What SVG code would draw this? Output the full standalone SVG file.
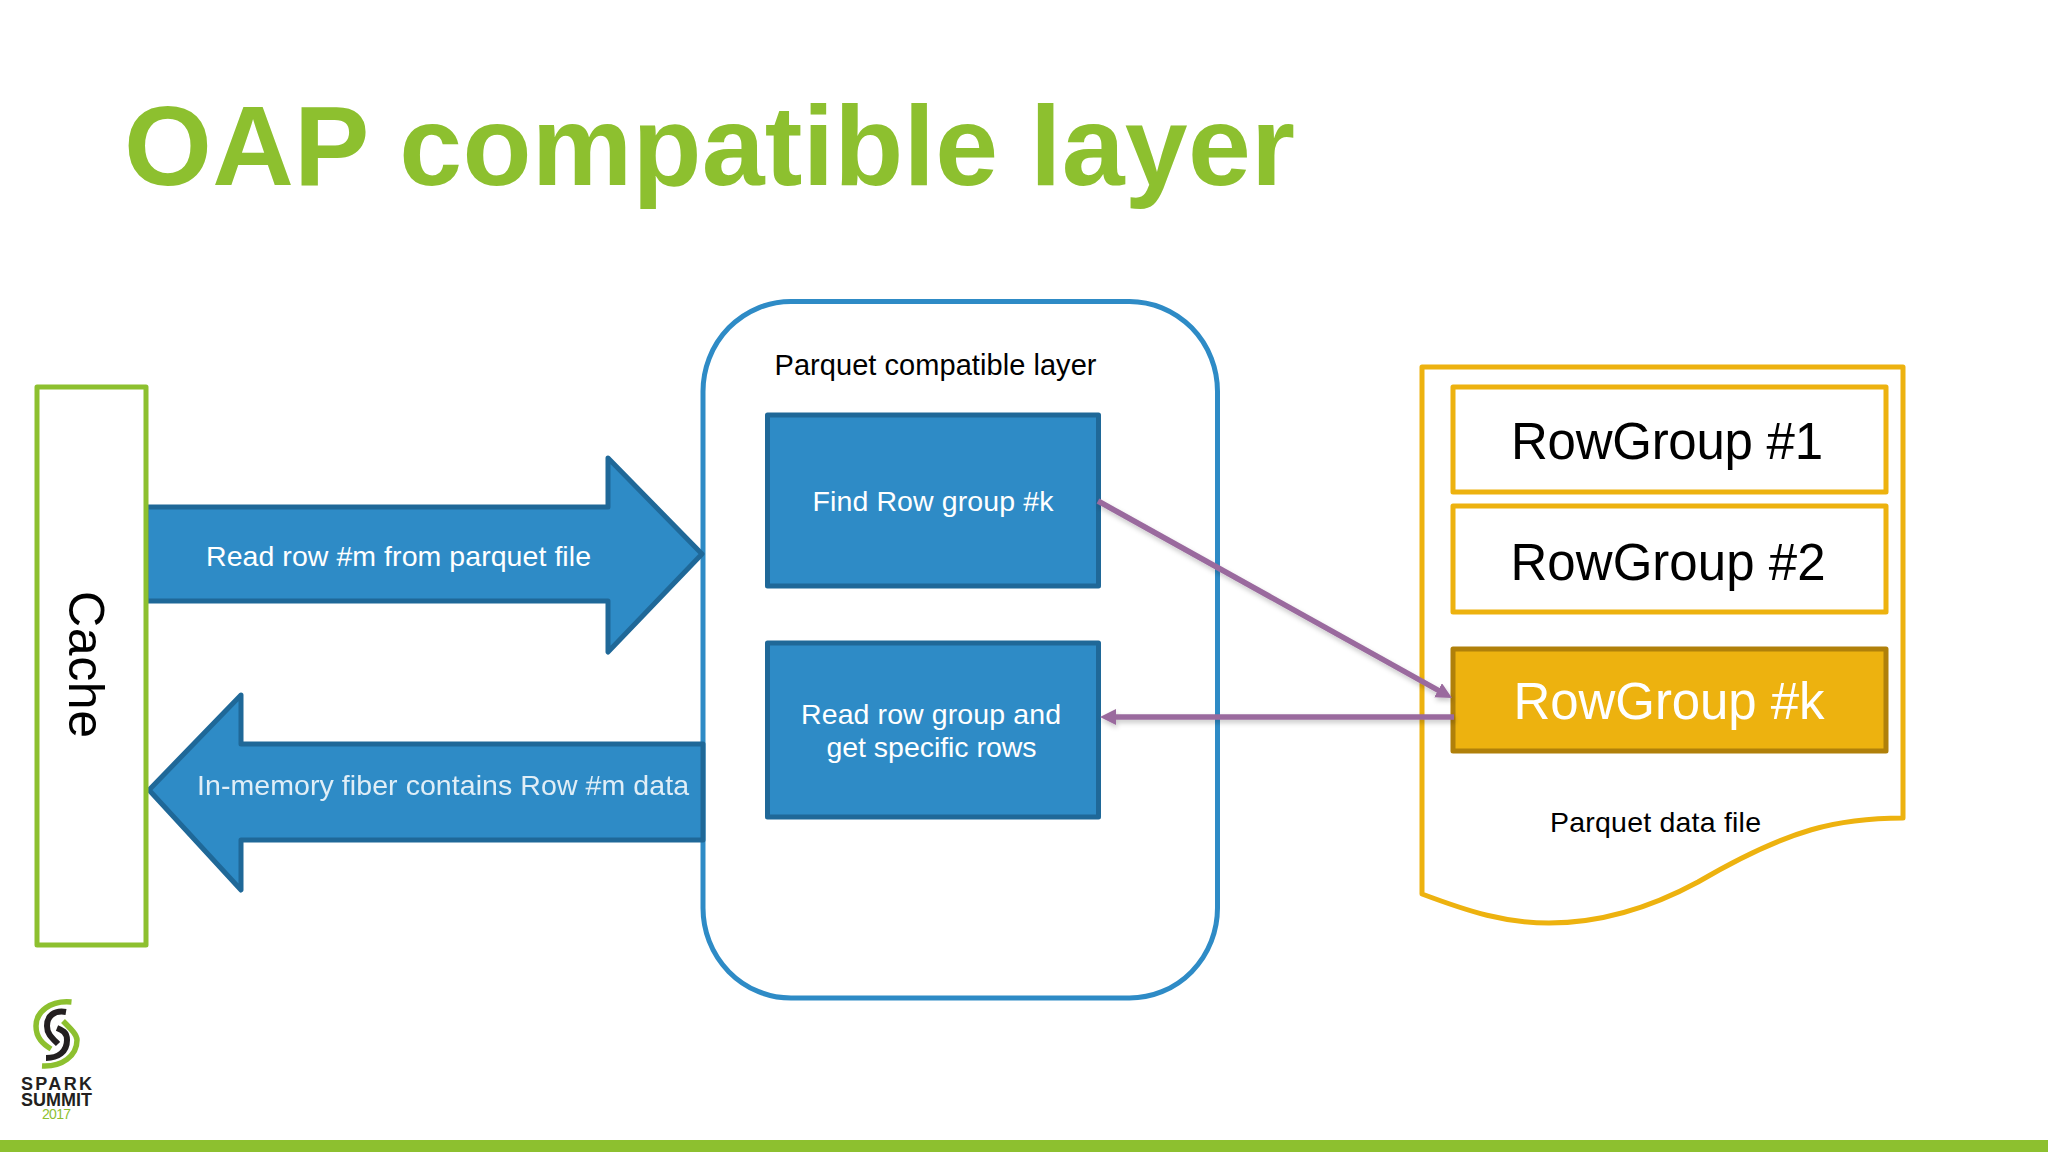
<svg xmlns="http://www.w3.org/2000/svg" width="2048" height="1152" viewBox="0 0 2048 1152">
<style>
text{font-family:"Liberation Sans",Arial,sans-serif}
.blue{fill:#2E8BC6;stroke:#1F6898;stroke-width:5;stroke-linejoin:round}
.rg{fill:#fff;stroke:#EDB20F;stroke-width:5;stroke-linejoin:round}
.wt{fill:#fff;font-size:28.5px;text-anchor:middle}
.bk{fill:#000;font-size:29px;text-anchor:middle}
.rgt{font-size:51px;text-anchor:middle;fill:#000}
.conn{fill:none;stroke:#9A6A9E;stroke-width:5.5}
</style>
<defs>
<marker id="ah" markerUnits="userSpaceOnUse" markerWidth="18" markerHeight="18" refX="6" refY="8" orient="auto"><path d="M0,0L16,8L0,16z" fill="#9A6A9E"/></marker>
<filter id="sh" x="-5%" y="-20%" width="110%" height="140%"><feDropShadow dx="1" dy="3" stdDeviation="2.5" flood-color="#000" flood-opacity=".22"/></filter>
<filter id="bl" x="-2%" y="-20%" width="104%" height="140%"><feGaussianBlur stdDeviation=".7"/></filter>
</defs>
<rect width="2048" height="1152" fill="#fff"/>
<text id="title" x="124" y="185" font-size="113" font-weight="700" fill="#8DC02F" textLength="1171">OAP compatible layer</text>

<g id="layer">
<rect x="703" y="301.500" width="514.500" height="696.500" rx="88" ry="90" fill="#fff" stroke="#2E8BC6" stroke-width="5"/>
<text class="bk" x="935.500" y="375" textLength="322">Parquet compatible layer</text>
</g>

<g id="read-arrow">
<path class="blue" d="M146,507H608V458L702,554L608,652V601H146z"/>
<text class="wt" x="398.500" y="566" textLength="385">Read row #m from parquet file</text>
</g>

<g id="fiber-arrow">
<path class="blue" d="M703,744H241V695L149,790L241,890V840H703z"/>
<text class="wt" x="443" y="795" textLength="492" fill-opacity=".85" filter="url(#bl)">In-memory fiber contains Row #m data</text>
</g>

<g id="cache">
<rect x="37" y="387" width="109" height="558" fill="#fff" stroke="#8DC02F" stroke-width="5" stroke-linejoin="round"/>
<text transform="translate(69,591) rotate(90)" font-size="50" fill="#000" textLength="147">Cache</text>
</g>

<g id="find-box">
<rect class="blue" x="767.500" y="415" width="331" height="171"/>
<text class="wt" x="933" y="511" textLength="241">Find Row group #k</text>
</g>

<g id="read-box">
<rect class="blue" x="767.500" y="643" width="331" height="174"/>
<text class="wt" x="931" y="724" textLength="260">Read row group and</text>
<text class="wt" x="931.500" y="757" textLength="210">get specific rows</text>
</g>

<g id="parquet-file">
<path d="M1422,367H1903V818C1840,818 1790,828 1698,882C1650,908 1600,923 1549,923C1505,923 1470,912 1422,894z" fill="#fff" stroke="#EDB20F" stroke-width="5" stroke-linejoin="round"/>
<text x="1550" y="832" font-size="28.500" fill="#000" textLength="211">Parquet data file</text>
</g>

<g id="rowgroup-1">
<rect class="rg" x="1453" y="387" width="433" height="105"/>
<text class="rgt" x="1667" y="459" textLength="312">RowGroup #1</text>
</g>
<g id="rowgroup-2">
<rect class="rg" x="1453" y="506" width="433" height="106"/>
<text class="rgt" x="1668" y="580" textLength="315">RowGroup #2</text>
</g>
<g id="rowgroup-k">
<rect x="1453" y="649" width="433" height="102" fill="#EDB20F" stroke="#B0800A" stroke-width="5" stroke-linejoin="round"/>
<text class="rgt" x="1669" y="719" textLength="311" style="fill:#fff">RowGroup #k</text>
</g>

<g id="connectors" filter="url(#sh)">
<line class="conn" x1="1098" y1="501" x2="1443.300" y2="693.100" marker-end="url(#ah)"/>
<line class="conn" x1="1454" y1="717" x2="1110" y2="717" marker-end="url(#ah)"/>
</g>

<g id="logo">
<g fill="none">
<path d="M71.500,1002C50,1000 36,1012 36,1026C36,1038 43,1044 51,1049" stroke="#8DC02F" stroke-width="5.500"/>
<path d="M63,1021C72,1030 77,1035 77,1040C77,1056 62,1067 42,1066" stroke="#8DC02F" stroke-width="5.500"/>
<path d="M66,1012C54,1010 47,1016 47,1026C47,1034 52,1038 58,1044" stroke="#231F20" stroke-width="6"/>
<path d="M46,1058C58,1058 67,1052 67,1040C67,1032 62,1030 57,1028" stroke="#231F20" stroke-width="6"/>
</g>
<text x="21" y="1090" font-size="18" font-weight="700" fill="#231F20" textLength="71">SPARK</text>
<text x="21" y="1106" font-size="18" font-weight="700" fill="#231F20" textLength="71">SUMMIT</text>
<text x="42" y="1119" font-size="14" fill="#8DC02F" textLength="29">2017</text>
</g>

<rect id="footer-bar" x="0" y="1140" width="2048" height="12" fill="#8DC02F"/>
</svg>
